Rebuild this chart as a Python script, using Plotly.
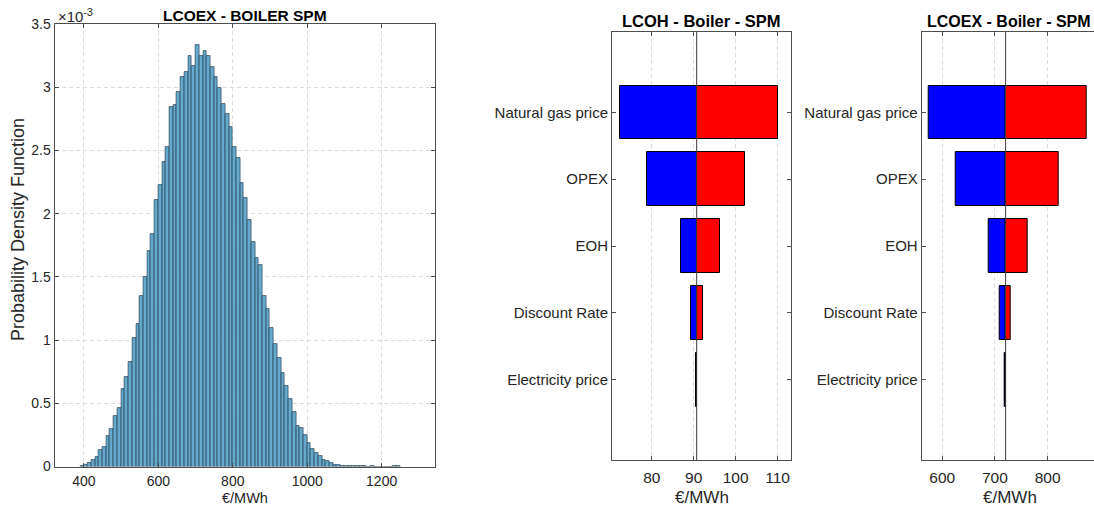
import plotly.graph_objects as go

# ---------------- data ----------------
# Histogram of LCOEX (Monte Carlo) - bin left edges (EUR/MWh) and PDF values (x 1e-3)
bin_left = [390, 400, 410, 420, 430, 440, 450, 460, 470, 480,
            490, 500, 510, 520, 530, 540, 550, 560, 570, 580,
            590, 600, 610, 620, 630, 640, 650, 660, 670, 680,
            690, 700, 710, 720, 730, 740, 750, 760, 770, 780,
            790, 800, 810, 820, 830, 840, 850, 860, 870, 880,
            890, 900, 910, 920, 930, 940, 950, 960, 970, 980,
            990, 1000, 1010, 1020, 1030, 1040, 1050, 1060, 1070, 1080,
            1090, 1100, 1110, 1120, 1130, 1140, 1150, 1160, 1170, 1180,
            1190, 1200, 1210, 1220, 1230, 1240]
bin_width = 10
pdf_e3 = [0.003, 0.013, 0.024, 0.050, 0.077, 0.130, 0.156, 0.243, 0.296, 0.400,
          0.464, 0.615, 0.704, 0.828, 1.013, 1.127, 1.350, 1.499, 1.707, 1.839,
          2.104, 2.230, 2.405, 2.525, 2.840, 2.860, 2.963, 3.078, 3.118, 3.245,
          3.167, 3.333, 3.246, 3.285, 3.246, 3.160, 3.081, 2.995, 2.866, 2.787,
          2.688, 2.527, 2.440, 2.240, 2.120, 1.947, 1.773, 1.652, 1.596, 1.348,
          1.243, 1.092, 0.966, 0.860, 0.739, 0.639, 0.530, 0.435, 0.317, 0.303,
          0.251, 0.187, 0.140, 0.103, 0.082, 0.053, 0.047, 0.029, 0.011, 0.011,
          0.005, 0.003, 0.002, 0.002, 0.002, 0.002, 0.001, 0.000, 0.001, 0.000,
          0.000, 0.000, 0.000, 0.000, 0.001, 0.001]

# Tornado charts
params = ["Natural gas price", "OPEX", "EOH", "Discount Rate", "Electricity price"]

lcoh_base = 90.7
lcoh_low = [72.4, 78.8, 86.9, 89.3, 90.6]
lcoh_high = [110.2, 102.2, 96.2, 92.1, 90.8]

lcoex_base = 720.3
lcoex_low = [574.0, 626.0, 689.0, 708.6, 718.5]
lcoex_high = [875.0, 820.6, 762.6, 730.6, 720.6]

hist_xticks = [400, 600, 800, 1000, 1200]
hist_yticks = [0, 0.5, 1, 1.5, 2, 2.5, 3, 3.5]
hist_yticklabels = ["0", "0.5", "1", "1.5", "2", "2.5", "3", "3.5"]
lcoh_xticks = [80, 90, 100, 110]
lcoex_xticks = [600, 700, 800]

# ---------------- layout helpers ----------------
W, H = 1094, 510
FONT = "Liberation Sans, Arial, Helvetica, sans-serif"
TXT = "#262626"
AX = "#4d4d4d"
GRID = "#dcdcdc"


def fx(p):
    return p / W


def fy(p):
    return 1 - p / H


fig = go.Figure()

# Histogram
fig.add_trace(go.Bar(
    x=[e + bin_width / 2 for e in bin_left], y=pdf_e3, width=bin_width,
    marker=dict(color="rgb(100,169,203)", line=dict(color="rgba(25,45,65,0.75)", width=0.8)),
    xaxis="x", yaxis="y", showlegend=False, hoverinfo="x+y"))

ypos = list(range(len(params)))

# Tornado LCOH
fig.add_trace(go.Bar(
    y=ypos, x=[v - lcoh_base for v in lcoh_low], base=lcoh_base, orientation="h", width=0.8,
    marker=dict(color="#0000ff", line=dict(color="black", width=1)),
    xaxis="x2", yaxis="y2", showlegend=False))
fig.add_trace(go.Bar(
    y=ypos, x=[v - lcoh_base for v in lcoh_high], base=lcoh_base, orientation="h", width=0.8,
    marker=dict(color="#ff0000", line=dict(color="black", width=1)),
    xaxis="x2", yaxis="y2", showlegend=False))

# Tornado LCOEX
fig.add_trace(go.Bar(
    y=ypos, x=[v - lcoex_base for v in lcoex_low], base=lcoex_base, orientation="h", width=0.8,
    marker=dict(color="#0000ff", line=dict(color="black", width=1)),
    xaxis="x3", yaxis="y3", showlegend=False))
fig.add_trace(go.Bar(
    y=ypos, x=[v - lcoex_base for v in lcoex_high], base=lcoex_base, orientation="h", width=0.8,
    marker=dict(color="#ff0000", line=dict(color="black", width=1)),
    xaxis="x3", yaxis="y3", showlegend=False))


def xax(size, standoff, **kw):
    d = dict(showline=True, linecolor=AX, linewidth=1, ticks="inside", ticklen=4,
             tickcolor=AX, showgrid=True, gridcolor=GRID, griddash="4px,3px", gridwidth=1,
             zeroline=False, mirror="ticks", ticklabelstandoff=standoff, automargin=False,
             tickfont=dict(family=FONT, size=size, color=TXT))
    d.update(kw)
    return d


def yax(size, **kw):
    d = dict(showline=True, linecolor=AX, linewidth=1, ticks="inside", ticklen=4,
             tickcolor=AX, zeroline=False, mirror="ticks", automargin=False,
             tickfont=dict(family=FONT, size=size, color=TXT))
    d.update(kw)
    return d


fig.update_layout(
    template="none",
    width=W, height=H, margin=dict(l=0, r=0, t=0, b=0, pad=0),
    paper_bgcolor="white", plot_bgcolor="white", barmode="overlay", bargap=0,
    font=dict(family=FONT, color=TXT),
    xaxis=xax(14, 2, domain=[fx(54.5), fx(434.5)], range=[321, 1342], tickvals=hist_xticks,
              anchor="y"),
    yaxis=yax(14, domain=[fy(466.5), fy(24)], range=[0, 3.5], tickvals=hist_yticks,
              ticktext=hist_yticklabels, showgrid=True, gridcolor=GRID,
              griddash="4px,3px", anchor="x"),
    xaxis2=xax(15.5, 3, domain=[fx(612), fx(791)], range=[70.5, 113.2], tickvals=lcoh_xticks,
               anchor="y2"),
    yaxis2=yax(15, domain=[fy(460), fy(32)], range=[5.2, -1.2], tickvals=ypos, ticktext=params,
               showgrid=False, anchor="x2"),
    xaxis3=xax(15.5, 3, domain=[fx(921.7), 1.0], range=[561, 888], tickvals=lcoex_xticks,
               anchor="y3"),
    yaxis3=yax(15, domain=[fy(460), fy(32)], range=[5.2, -1.2], tickvals=ypos, ticktext=params,
               showgrid=False, anchor="x3", mirror=False),
)

# base (centre) lines of the tornado charts
fig.add_shape(type="line", xref="x2", yref="y2 domain", x0=lcoh_base, x1=lcoh_base, y0=0, y1=1,
              line=dict(color="#3a3a3a", width=1), layer="above")
fig.add_shape(type="line", xref="x3", yref="y3 domain", x0=lcoex_base, x1=lcoex_base, y0=0, y1=1,
              line=dict(color="#3a3a3a", width=1), layer="above")

ann = [
    dict(text="<b>LCOEX - BOILER SPM</b>", x=fx(244.7), y=fy(15), size=15.5, xanchor="center", color="black"),
    dict(text="<b>LCOH - Boiler - SPM</b>", x=fx(701.5), y=fy(21.5), size=16.5, xanchor="center", color="black"),
    dict(text="<b>LCOEX - Boiler - SPM</b>", x=fx(925), y=fy(21.5), size=16, xanchor="left", color="black"),
    dict(text="\u00d710<sup>-3</sup>", x=fx(55.5), y=fy(15), size=15, xanchor="left", color=TXT),
    dict(text="\u20ac/MWh", x=fx(245), y=fy(498), size=14.5, xanchor="center", color=TXT),
    dict(text="\u20ac/MWh", x=fx(701.7), y=fy(497), size=17, xanchor="center", color=TXT),
    dict(text="\u20ac/MWh", x=fx(1010), y=fy(497), size=17, xanchor="center", color=TXT),
]
for a in ann:
    fig.add_annotation(text=a["text"], x=a["x"], y=a["y"], xref="paper", yref="paper",
                       xanchor=a["xanchor"], yanchor="middle", showarrow=False,
                       font=dict(family=FONT, size=a["size"], color=a["color"]))

fig.add_annotation(text="Probability Density Function", x=fx(18), y=fy(230), xref="paper",
                   yref="paper", textangle=-90, showarrow=False, xanchor="center", yanchor="middle",
                   font=dict(family=FONT, size=18, color=TXT))

fig.write_html("out.html")
